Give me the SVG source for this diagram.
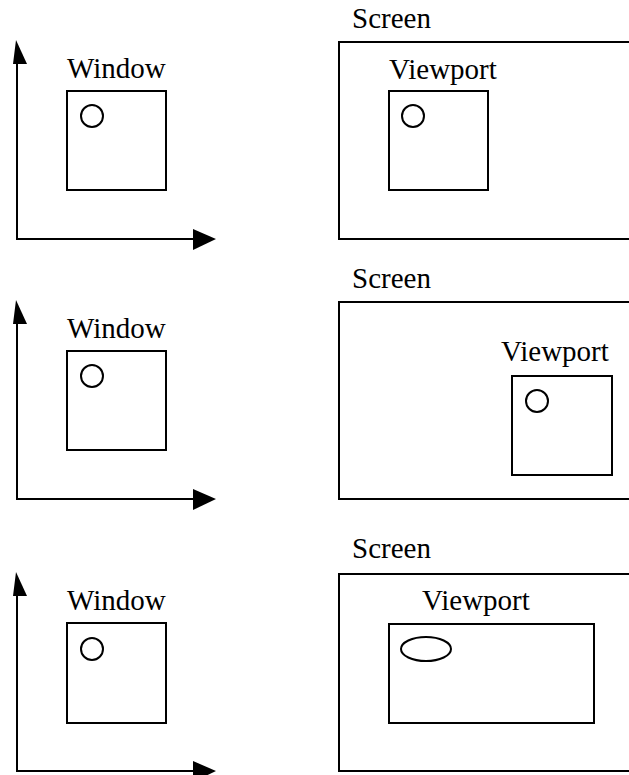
<svg xmlns="http://www.w3.org/2000/svg" width="629" height="775" viewBox="0 0 629 775">
<style>
.box{fill:none;stroke:#000;stroke-width:2}
.ax{fill:none;stroke:#000;stroke-width:2}
.hd{fill:#000;stroke:none}
text{font-family:"Liberation Serif","Times New Roman",serif;font-size:29px;fill:#000}
</style>
<rect width="629" height="775" fill="#fff"/>
<g id="connectors">
  <g id="axes1">
    <polyline class="ax" points="17,60 17,239 195,239"/>
    <polygon class="hd" points="16,40 13,64 27,64"/>
    <polygon class="hd" points="216,239 193,229 193,250"/>
  </g>
  <g id="axes2">
    <polyline class="ax" points="17,320 17,499 195,499"/>
    <polygon class="hd" points="16,300 13,324 27,324"/>
    <polygon class="hd" points="216,499 193,489 193,510"/>
  </g>
  <g id="axes3">
    <polyline class="ax" points="17,592 17,771 195,771"/>
    <polygon class="hd" points="16,572 13,596 27,596"/>
    <polygon class="hd" points="216,771 193,761 193,782"/>
  </g>
</g>
<g id="window1">
  <text x="67" y="78">Window</text>
  <rect class="box" x="67" y="91" width="99" height="99"/>
  <circle class="box" cx="92" cy="116" r="11"/>
</g>
<g id="screen1">
  <text x="352" y="28">Screen</text>
  <rect class="box" x="339" y="42" width="300" height="197"/>
</g>
<g id="viewport1">
  <text x="389" y="79">Viewport</text>
  <rect class="box" x="389" y="91" width="99" height="99"/>
  <circle class="box" cx="413" cy="116" r="11"/>
</g>
<g id="window2">
  <text x="67" y="338">Window</text>
  <rect class="box" x="67" y="351" width="99" height="99"/>
  <circle class="box" cx="92" cy="376" r="11"/>
</g>
<g id="screen2">
  <text x="352" y="288">Screen</text>
  <rect class="box" x="339" y="302" width="300" height="197"/>
</g>
<g id="viewport2">
  <text x="501" y="361">Viewport</text>
  <rect class="box" x="512" y="376" width="100" height="99"/>
  <circle class="box" cx="537" cy="401" r="11"/>
</g>
<g id="window3">
  <text x="67" y="610">Window</text>
  <rect class="box" x="67" y="623" width="99" height="100"/>
  <circle class="box" cx="92" cy="649" r="11"/>
</g>
<g id="screen3">
  <text x="352" y="558">Screen</text>
  <rect class="box" x="339" y="574" width="300" height="197"/>
</g>
<g id="viewport3">
  <text x="422" y="610">Viewport</text>
  <rect class="box" x="389" y="624" width="205" height="99"/>
  <ellipse class="box" cx="426" cy="649" rx="25" ry="12"/>
</g>
</svg>
